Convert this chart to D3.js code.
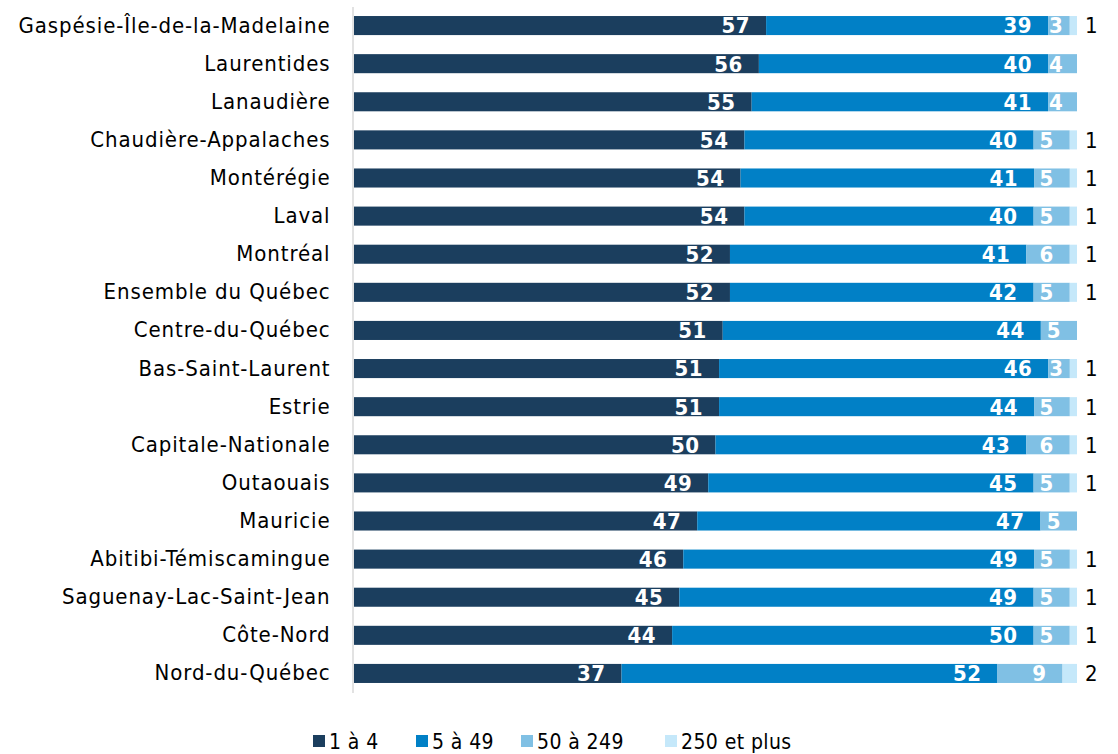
<!DOCTYPE html>
<html>
<head>
<meta charset="utf-8">
<style>
  body { margin: 0; background: #fff; }
  svg { display: block; font-family: 'DejaVu Sans Condensed', 'DejaVu Sans', sans-serif; }
</style>
</head>
<body>
<svg width="1118" height="754"></svg>
<script src="https://d3js.org/d3.v7.min.js"></script>
<script>
  // regions, top to bottom
  let regions = ["Gaspésie-Île-de-la-Madelaine", "Laurentides", "Lanaudière", "Chaudière-Appalaches",
    "Montérégie", "Laval", "Montréal", "Ensemble du Québec", "Centre-du-Québec", "Bas-Saint-Laurent",
    "Estrie", "Capitale-Nationale", "Outaouais", "Mauricie", "Abitibi-Témiscamingue",
    "Saguenay-Lac-Saint-Jean", "Côte-Nord", "Nord-du-Québec"]

  let series = ["1 à 4", "5 à 49", "50 à 249", "250 et plus"]

  let s1to4    = [57, 56, 55, 54, 54, 54, 52, 52, 51, 51, 51, 50, 49, 47, 46, 45, 44, 37]
  let s5to49   = [39, 40, 41, 40, 41, 40, 41, 42, 44, 46, 44, 43, 45, 47, 49, 49, 50, 52]
  let s50to249 = [3, 4, 4, 5, 5, 5, 6, 5, 5, 3, 5, 6, 5, 5, 5, 5, 5, 9]
  let s250     = [1, 0, 0, 1, 1, 1, 1, 1, 0, 1, 1, 1, 1, 0, 1, 1, 1, 2]

  let colors = ["#1b3e5e", "#0180c6", "#80c0e4", "#c5e8fa"]

  let rows = regions.map((r, i) => ({
    region: r,
    [series[0]]: s1to4[i],
    [series[1]]: s5to49[i],
    [series[2]]: s50to249[i],
    [series[3]]: s250[i]
  }))

  let svg = d3.select("svg")
  let left = 354, right = 1077

  let x = d3.scaleLinear().domain([0, 1]).range([left, right])
  let y = d3.scaleBand().domain(regions).range([6.5, 692.5]).paddingInner(0.5).paddingOuter(0.25)
  let color = d3.scaleOrdinal().domain(series).range(colors)

  let stacked = d3.stack().keys(series).offset(d3.stackOffsetExpand)(rows)

  // bars
  let groups = svg.append("g")
    .selectAll("g")
    .data(stacked)
    .join("g")
    .attr("fill", d => color(d.key))

  groups.selectAll("rect")
    .data(d => d.map(p => ({ key: d.key, p: p })))
    .join("rect")
    .attr("x", d => x(d.p[0]))
    .attr("y", d => y(d.p.data.region))
    .attr("width", d => x(d.p[1]) - x(d.p[0]))
    .attr("height", y.bandwidth())

  // labels inside segments (first three series)
  stacked.slice(0, 3).forEach(s => {
    s.forEach(p => {
      let v = p.data[s.key]
      if (!v) return
      let x0 = x(p[0]), x1 = x(p[1])
      let t = svg.append("text")
        .attr("y", y(p.data.region) + y.bandwidth() / 2)
        .attr("dy", "0.36em")
        .attr("text-anchor", "end")
        .attr("fill", "#fff")
        .attr("font-weight", "bold")
        .attr("font-size", 22)
        .attr("letter-spacing", 0.5)
        .text(v)
      let w = t.node().getComputedTextLength()
      t.attr("x", Math.max(x1 - 16, x0 + w + 1))
    })
  })

  // labels for last series, outside the bar
  stacked[3].forEach(p => {
    let v = p.data[series[3]]
    if (!v) return
    svg.append("text")
      .attr("x", x(p[1]) + 8)
      .attr("y", y(p.data.region) + y.bandwidth() / 2)
      .attr("dy", "0.36em")
      .attr("fill", "#000")
      .attr("font-size", 22)
      .text(v)
  })

  // category axis
  let yAxis = svg.append("g")
    .attr("transform", "translate(352.5,0)")
    .call(d3.axisLeft(y).tickSize(0).tickPadding(22).tickSizeOuter(0))
  yAxis.select(".domain").attr("stroke", "#d9d9d9").attr("stroke-width", 1.5)
  yAxis.selectAll("text").attr("font-size", 22).attr("fill", "#000")
    .attr("letter-spacing", 0.9)
    .style("font-family", "'DejaVu Sans Condensed', 'DejaVu Sans', sans-serif")

  // legend
  let legendX = [313, 416, 521, 665]
  let legend = svg.append("g")
    .selectAll("g")
    .data(series)
    .join("g")
    .attr("transform", (d, i) => "translate(" + legendX[i] + ",741)")
  legend.append("rect")
    .attr("y", -6)
    .attr("width", 12)
    .attr("height", 12)
    .attr("fill", d => color(d))
  legend.append("text")
    .attr("x", 16)
    .attr("dy", "0.36em")
    .attr("font-size", 21)
    .attr("letter-spacing", 0.4)
    .text(d => d)
</script>
</body>
</html>
